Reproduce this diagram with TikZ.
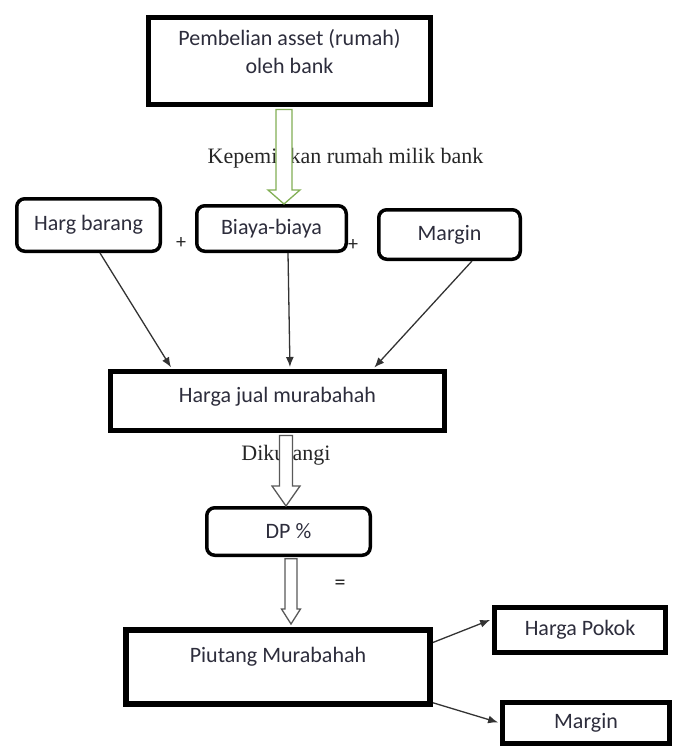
\documentclass[tikz,border=0pt]{standalone}
\usepackage{fontspec}
\setmainfont{Liberation Serif}
\newfontfamily\boxfont{Carlito}
\usetikzlibrary{arrows.meta,positioning}
\definecolor{arrowgreen}{RGB}{130,175,85}
\definecolor{boxtext}{RGB}{45,45,60}

\begin{document}
\begin{tikzpicture}[x=1pt,y=-1pt,semithick]
	  \tikzstyle{plainbox}=[rectangle,draw=black,line width=5pt,fill=white,text=boxtext,align=center,font=\boxfont\fontsize{22}{28}\selectfont]
	  \tikzstyle{roundbox}=[plainbox,line width=3.5pt,rounded corners=8pt]
	  \tikzstyle{serif}=[text=black!85,font=\fontsize{22}{26}\selectfont]
	  \tikzstyle{sign}=[text=black!85,font=\boxfont\fontsize{20}{24}\selectfont]
	  \tikzstyle{thinarrow}=[every edge/.append style={draw=black!80,line width=1.3pt,-{Latex[length=10pt,width=8pt]},shorten >=2pt}]
	  \tikzstyle{greenarrow}=[draw=arrowgreen,fill=white,line width=1.3pt]
	  \tikzstyle{grayarrow}=[draw=black!65,fill=white,line width=1.3pt]

	  \useasboundingbox (0,0) rectangle (677,746);

	  \node[plainbox,minimum width=282pt,minimum height=87pt,text depth=19pt] (buy) at (289.5,61) {Pembelian asset (rumah)\\oleh bank};
	  \node[serif] (own) at (345.5,158) {Kepemilikan rumah milik bank};

	  \node[roundbox,minimum width=143.5pt,minimum height=52.5pt] (harg) at (88.5,225) {Harg barang};
	  \node[roundbox,minimum width=149.5pt,minimum height=45.5pt] (biaya) at (271.5,228.5) {Biaya-biaya};
	  \node[roundbox,minimum width=141.5pt,minimum height=49.5pt] (margin) at (449.5,234.5) {Margin};
	  \node[sign] (plusA) at (181,243) {+};
	  \node[sign] (plusB) at (353,245) {+};

	  \node[plainbox,minimum width=334pt,minimum height=59pt,text height=16pt,text depth=13pt] (jual) at (277.5,401) {Harga jual murabahah};
	  \node[serif] (minus) at (286,455) {Dikurangi};

	  \node[roundbox,minimum width=163.5pt,minimum height=47.5pt] (dp) at (288.5,531.5) {DP \%};
	  \node[sign,font=\boxfont\fontsize{22}{26}\selectfont] (equal) at (340,585) {=};

	  \node[plainbox,line width=6pt,minimum width=304pt,minimum height=74pt,text height=16pt,text depth=25pt] (piutang) at (278,667) {Piutang Murabahah};
	  \node[plainbox,minimum width=171pt,minimum height=45pt] (pokok) at (580,630) {Harga Pokok};
	  \node[plainbox,minimum width=167pt,minimum height=41pt] (profit) at (586,723) {Margin};

	  \path[thinarrow]
	  ([xshift=11.5pt]harg.south) edge ([xshift=-105.5pt]jual.north)
	  ([xshift=16.5pt]biaya.south) edge ([xshift=12.5pt]jual.north)
	  ([xshift=22.5pt]margin.south) edge ([xshift=95.5pt]jual.north)

	  (piutang.9) edge (pokok.173)
	  (piutang.-13) edge (profit.west)
	  ;

	  % hollow block arrows
	  \draw[greenarrow] ([shift={(-13.5,2.5)}]buy.south) -- ([shift={(4.5,-14)}]biaya.north) -- ([shift={(-3.5,-14)}]biaya.north) -- ([shift={(12.5,0)}]biaya.north) -- ([shift={(28.5,-14)}]biaya.north) -- ([shift={(20.5,-14)}]biaya.north) -- ([shift={(2.5,2.5)}]buy.south) -- cycle;
	  \draw[grayarrow] ([shift={(2,2.5)}]jual.south) -- ([shift={(-9,-20)}]dp.north) -- ([shift={(-16.5,-20)}]dp.north) -- ([shift={(-2.5,0)}]dp.north) -- ([shift={(11.5,-20)}]dp.north) -- ([shift={(4,-20)}]dp.north) -- ([shift={(15,2.5)}]jual.south) -- cycle;
	  \draw[grayarrow] ([shift={(-3.5,1.75)}]dp.south) -- ([shift={(7,-18)}]piutang.north) -- ([shift={(3.5,-18)}]piutang.north) -- ([shift={(13,-3)}]piutang.north) -- ([shift={(22.5,-18)}]piutang.north) -- ([shift={(19,-18)}]piutang.north) -- ([shift={(8.5,1.75)}]dp.south) -- cycle;
\end{tikzpicture}
\end{document}
